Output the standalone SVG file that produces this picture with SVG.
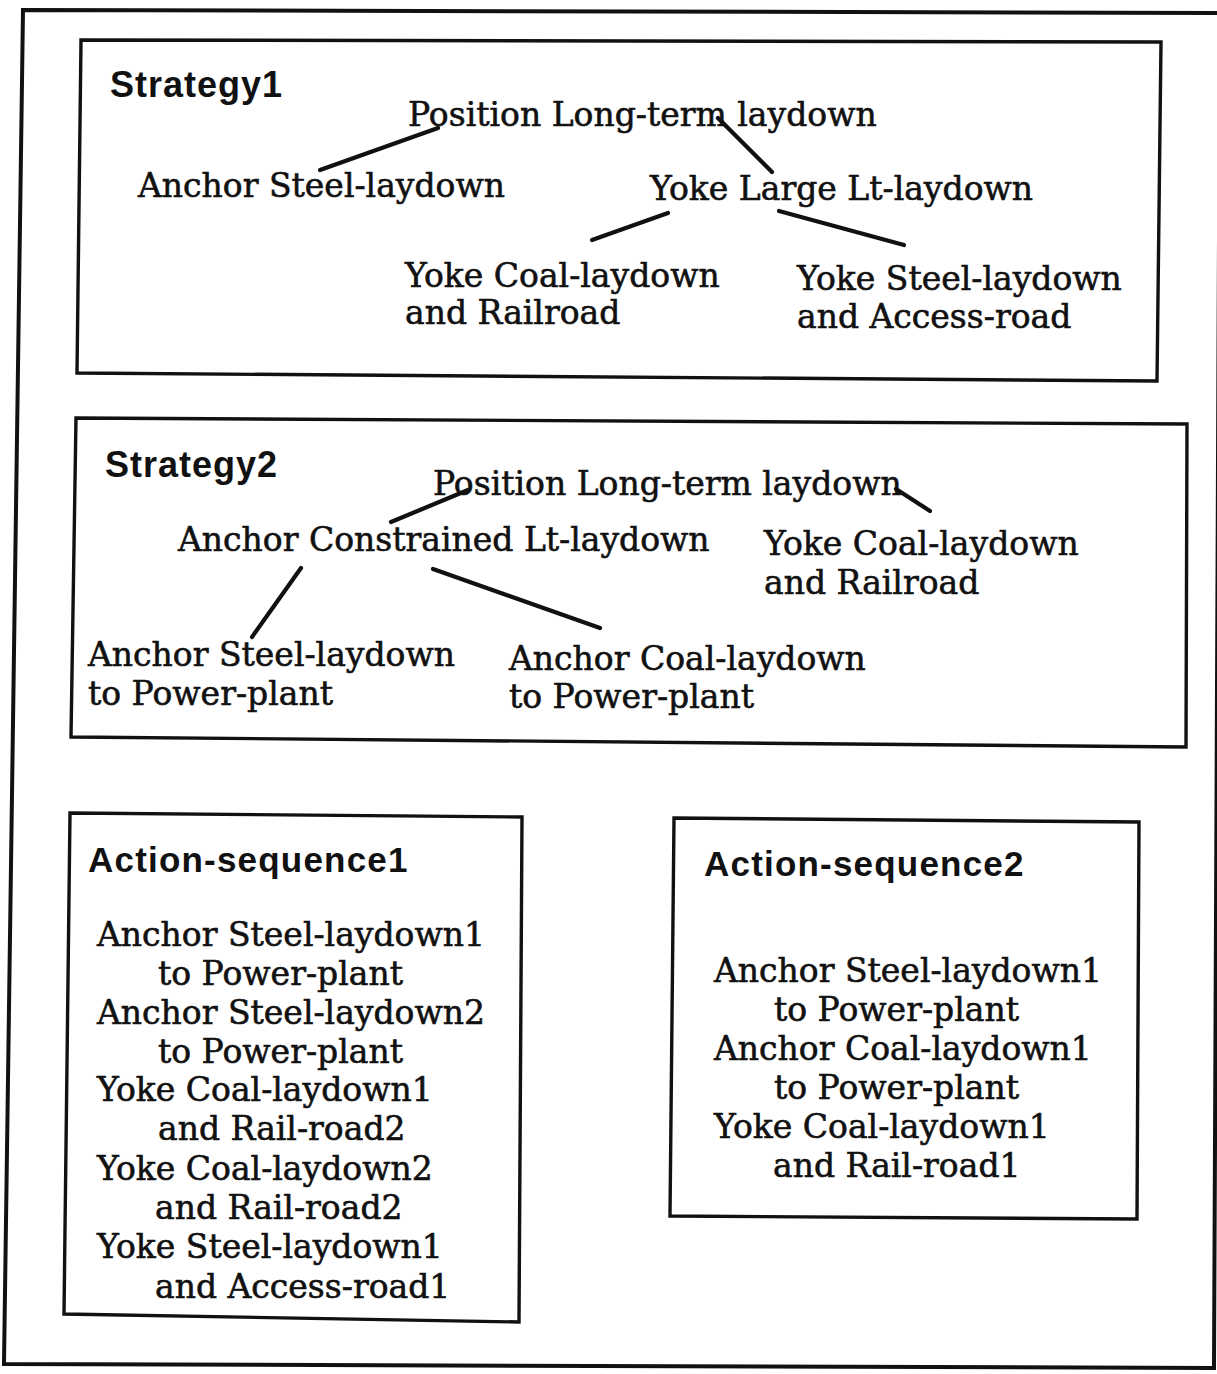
<svg xmlns="http://www.w3.org/2000/svg" width="1217" height="1374" viewBox="0 0 1217 1374">
  <style>
    .frame { fill: none; stroke: #111; stroke-width: 4; stroke-linejoin: miter; }
    .box { fill: none; stroke: #111; stroke-width: 3.4; stroke-linejoin: miter; }
    .title { font-family: "Liberation Sans", Arial, sans-serif; font-weight: bold; font-size: 35px; fill: #111; letter-spacing: 1.2px; }
    .lbl { font-family: "DejaVu Serif", "Liberation Serif", serif; font-size: 33px; fill: #111; stroke: #111; stroke-width: 0.6px; }
    .edge { stroke: #111; stroke-width: 4.2; stroke-linecap: round; fill: none; }
  </style>

  <rect width="1217" height="1374" fill="#fff"/>

  <!-- outer frame -->
  <polygon class="frame" points="23,10 1220,13 1214,1368 4,1364"/>

  <!-- Strategy 1 -->
  <g id="strategy1">
    <polygon class="box" points="81,40 1161,42 1157,381 77,373"/>
    <text class="title" x="110" y="97" style="font-size:36px;letter-spacing:1px">Strategy1</text>
    <g id="s1-position"><text class="lbl" x="408" y="126">Position Long-term laydown</text></g>
    <g id="s1-anchor-steel"><text class="lbl" x="138" y="197">Anchor Steel-laydown</text></g>
    <g id="s1-yoke-large"><text class="lbl" x="650" y="200">Yoke Large Lt-laydown</text></g>
    <g id="s1-yoke-coal">
      <text class="lbl" x="405" y="287">Yoke Coal-laydown</text>
      <text class="lbl" x="405" y="324">and Railroad</text>
    </g>
    <g id="s1-yoke-steel">
      <text class="lbl" x="797" y="290">Yoke Steel-laydown</text>
      <text class="lbl" x="797" y="328">and Access-road</text>
    </g>
  </g>

  <!-- Strategy 2 -->
  <g id="strategy2">
    <polygon class="box" points="76,418 1187,424 1186,747 71,737"/>
    <text class="title" x="105" y="477" style="font-size:36px;letter-spacing:1px">Strategy2</text>
    <g id="s2-position"><text class="lbl" x="433" y="495">Position Long-term laydown</text></g>
    <g id="s2-anchor-constrained"><text class="lbl" x="178" y="551">Anchor Constrained Lt-laydown</text></g>
    <g id="s2-yoke-coal">
      <text class="lbl" x="764" y="555">Yoke Coal-laydown</text>
      <text class="lbl" x="764" y="594">and Railroad</text>
    </g>
    <g id="s2-anchor-steel">
      <text class="lbl" x="88" y="666">Anchor Steel-laydown</text>
      <text class="lbl" x="88" y="705">to Power-plant</text>
    </g>
    <g id="s2-anchor-coal">
      <text class="lbl" x="509" y="670">Anchor Coal-laydown</text>
      <text class="lbl" x="509" y="708">to Power-plant</text>
    </g>
  </g>

  <!-- Action sequence 1 -->
  <g id="action-sequence1">
    <polygon class="box" points="70,813 522,817 519,1322 64,1314"/>
    <text class="title" x="88" y="872">Action-sequence1</text>
    <text class="lbl" x="97" y="946">Anchor Steel-laydown1</text>
    <text class="lbl" x="158" y="985">to Power-plant</text>
    <text class="lbl" x="97" y="1024">Anchor Steel-laydown2</text>
    <text class="lbl" x="158" y="1063">to Power-plant</text>
    <text class="lbl" x="97" y="1101">Yoke Coal-laydown1</text>
    <text class="lbl" x="158" y="1140">and Rail-road2</text>
    <text class="lbl" x="97" y="1180">Yoke Coal-laydown2</text>
    <text class="lbl" x="155" y="1219">and Rail-road2</text>
    <text class="lbl" x="97" y="1258">Yoke Steel-laydown1</text>
    <text class="lbl" x="155" y="1298">and Access-road1</text>
  </g>

  <!-- Action sequence 2 -->
  <g id="action-sequence2">
    <polygon class="box" points="674,818 1139,822 1137,1219 670,1216"/>
    <text class="title" x="704" y="876">Action-sequence2</text>
    <text class="lbl" x="714" y="982">Anchor Steel-laydown1</text>
    <text class="lbl" x="774" y="1021">to Power-plant</text>
    <text class="lbl" x="714" y="1060">Anchor Coal-laydown1</text>
    <text class="lbl" x="774" y="1099">to Power-plant</text>
    <text class="lbl" x="714" y="1138">Yoke Coal-laydown1</text>
    <text class="lbl" x="773" y="1177">and Rail-road1</text>
  </g>

  <!-- tree links -->
  <g id="connectors">
    <line class="edge" x1="320" y1="170" x2="438" y2="128"/>
    <line class="edge" x1="718" y1="118" x2="772" y2="172"/>
    <line class="edge" x1="592" y1="240" x2="668" y2="213"/>
    <line class="edge" x1="779" y1="211" x2="904" y2="245"/>
    <line class="edge" x1="391" y1="522" x2="468" y2="490"/>
    <line class="edge" x1="896" y1="489" x2="930" y2="511"/>
    <line class="edge" x1="301" y1="568" x2="252" y2="637"/>
    <line class="edge" x1="433" y1="569" x2="600" y2="628"/>
  </g>
</svg>
